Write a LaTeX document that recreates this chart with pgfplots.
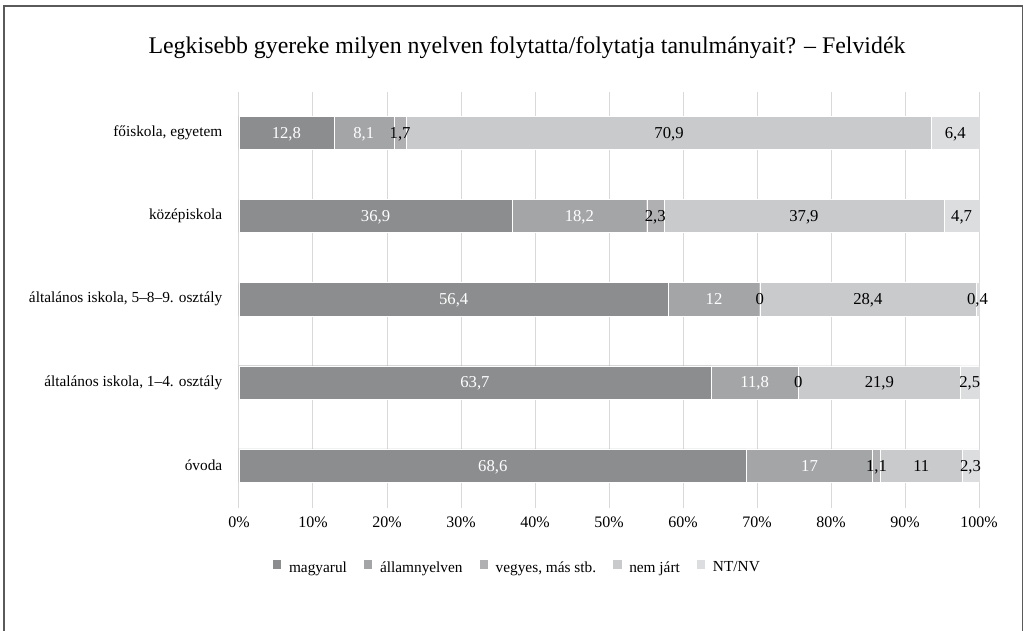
\documentclass[border=0pt]{standalone}
\usepackage{fontspec}
\setmainfont{Liberation Serif}
\usepackage{pgfplots}
\usepackage{pgfplotstable}
\pgfplotsset{compat=1.18}
\definecolor{cA}{HTML}{8B8D8F}
\definecolor{cB}{HTML}{A4A5A7}
\definecolor{cC}{HTML}{B0B0B2}
\definecolor{cD}{HTML}{C9CACC}
\definecolor{cE}{HTML}{DCDDDF}
\definecolor{gridc}{HTML}{D9D9D9}
\definecolor{framec}{HTML}{5A5A5A}
\pgfplotstableread{
y a b c d e
0 68.6 17 1.1 11 2.3
1 63.7 11.8 0 21.9 2.5
2 56.4 12 0 28.4 0.4
3 36.9 18.2 2.3 37.9 4.7
4 12.8 8.1 1.7 70.9 6.4
}\data
\pgfplotstablecreatecol[expr={\thisrow{a}+\thisrow{b}+\thisrow{c}+\thisrow{d}+\thisrow{e}}]{t}\data
\pgfplotsset{
  common/.style={
    at={(239*0.75pt,-508*0.75pt)}, anchor=south west,
    scale only axis, width=740*0.75pt, height=416*0.75pt,
    xmin=0, xmax=100, ymin=-0.51, ymax=4.49,
    /pgf/number format/assume math mode=true,
    /pgf/number format/use comma,
  },
}
\begin{document}
\begin{tikzpicture}
\useasboundingbox (0,0) rectangle (1025*0.75pt,-631*0.75pt);
\draw[framec, line width=1.4pt] (4*0.75pt,-640*0.75pt) -- (4*0.75pt,-6*0.75pt) -- (1022.5*0.75pt,-6*0.75pt) -- (1022.5*0.75pt,-640*0.75pt);
\node[font=\fontsize{17.9}{20}\selectfont] at (527*0.75pt,-48*0.75pt) {Legkisebb gyereke milyen nyelven folytatta/folytatja tanulmányait? – Felvidék};
\begin{axis}[common,
  xbar stacked, bar width=0.4,
  axis line style={draw=none}, tick style={draw=none}, major tick length=0pt,
  xmajorgrids, grid style={gridc, line width=0.75pt},
  xtick={0,10,...,100},
  xticklabel={\pgfmathprintnumber{\tick}\%},
  xticklabel style={font=\fontsize{12}{14}\selectfont, yshift=-3pt},
  ytick={0,1,2,3,4},
  yticklabels={óvoda,{általános iskola, 1–4. osztály},{általános iskola, 5–8–9. osztály},középiskola,{főiskola, egyetem}},
  yticklabel style={font=\fontsize{11.5}{13}\selectfont, xshift=-9pt},
  legend style={at={(rel axis cs:0.376,-0.144)}, anchor=center, draw=none, fill=none,
    legend columns=5, font=\fontsize{11.5}{13}\selectfont,
    /tikz/every odd column/.append style={column sep=3.5pt},
    /tikz/every even column/.append style={column sep=10pt}},
  legend image code/.code={\fill[#1] (0pt,-0.8pt) rectangle (7pt,6.2pt);},
]
\addplot[fill=cA, draw=white, line width=0.3pt] table[x expr={100*\thisrow{a}/\thisrow{t}}, y=y]{\data};
\addplot[fill=cB, draw=white, line width=0.3pt] table[x expr={100*\thisrow{b}/\thisrow{t}}, y=y]{\data};
\addplot[fill=cC, draw=white, line width=0.3pt] table[x expr={100*\thisrow{c}/\thisrow{t}}, y=y]{\data};
\addplot[fill=cD, draw=white, line width=0.3pt] table[x expr={100*\thisrow{d}/\thisrow{t}}, y=y]{\data};
\addplot[fill=cE, draw=white, line width=0.3pt] table[x expr={100*\thisrow{e}/\thisrow{t}}, y=y]{\data};
\legend{magyarul, államnyelven, {vegyes, más stb.}, nem járt, NT/NV}
\end{axis}
\begin{axis}[common, hide axis,
  nodes near coords,
  every node near coord/.append style={anchor=center, yshift=-1pt, text height=1.6ex, text depth=0.25ex, inner sep=0pt, font=\fontsize{12.5}{14}\selectfont},
]
\addplot[draw=none, mark=none, point meta=explicit, every node near coord/.append style={text=white}]
  table[x expr={100*(\thisrow{a}/2)/\thisrow{t}}, y=y, meta=a]{\data};
\addplot[draw=none, mark=none, point meta=explicit, every node near coord/.append style={text=white}]
  table[x expr={100*(\thisrow{a}+\thisrow{b}/2)/\thisrow{t}}, y=y, meta=b]{\data};
\addplot[draw=none, mark=none, point meta=explicit, every node near coord/.append style={text=black}]
  table[x expr={100*(\thisrow{a}+\thisrow{b}+\thisrow{c}/2)/\thisrow{t}}, y=y, meta=c]{\data};
\addplot[draw=none, mark=none, point meta=explicit, every node near coord/.append style={text=black}]
  table[x expr={100*(\thisrow{a}+\thisrow{b}+\thisrow{c}+\thisrow{d}/2)/\thisrow{t}}, y=y, meta=d]{\data};
\addplot[draw=none, mark=none, point meta=explicit, every node near coord/.append style={text=black}]
  table[x expr={100*(\thisrow{a}+\thisrow{b}+\thisrow{c}+\thisrow{d}+\thisrow{e}/2)/\thisrow{t}}, y=y, meta=e]{\data};
\end{axis}
\end{tikzpicture}
\end{document}
